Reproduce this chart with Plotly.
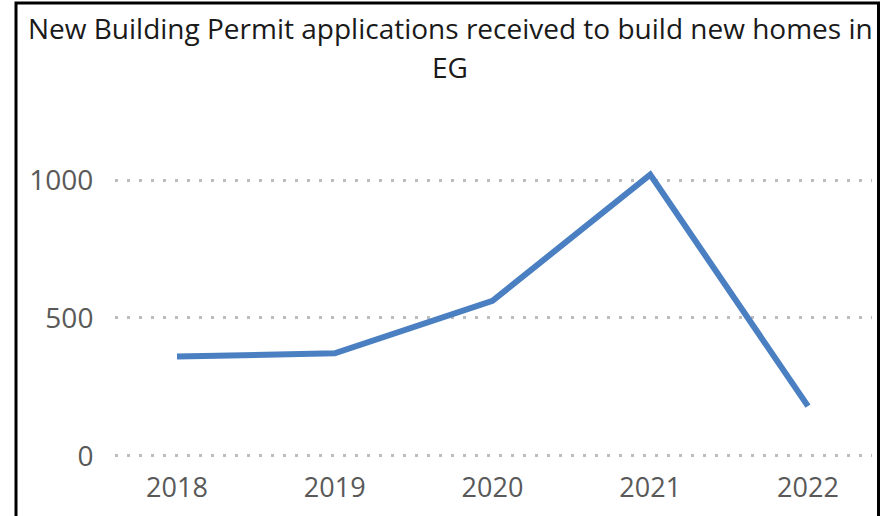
import plotly.graph_objects as go

# Data
years = ["2018", "2019", "2020", "2021", "2022"]
applications = [360, 372, 562, 1020, 180]
y_ticks = [0, 500, 1000]
title_lines = ["New Building Permit applications received to build new homes in", "EG"]

W, H = 891, 516
Y_MIN, Y_MAX = -8, 1200
ZERO_PX, TOP_PX = 456, 125          # pixel rows for value 0 and for Y_MAX
px_per_unit = (ZERO_PX - TOP_PX) / Y_MAX
M_L, M_R = 115, 19
M_T = TOP_PX
M_B = H - (ZERO_PX - Y_MIN * px_per_unit)
plot_w = W - M_L - M_R
plot_h = H - M_T - M_B

def px_to_paper_x(px):
    return (px - M_L) / plot_w

def px_to_paper_y(py):
    return (H - M_B - py) / plot_h

fig = go.Figure()
fig.add_trace(go.Scatter(
    x=years, y=applications, mode="lines",
    line=dict(color="#4a7fc2", width=6),
    hoverinfo="x+y", showlegend=False,
))

# Two-line title placed as annotations for exact line spacing
title_centers_px = [28, 67]
annotations = [
    dict(
        text=line, xref="paper", yref="paper",
        x=px_to_paper_x(450), y=px_to_paper_y(cy),
        xanchor="center", yanchor="middle", showarrow=False,
        font=dict(family="Open Sans, sans-serif", size=28, color="#1a1a1a"),
    )
    for line, cy in zip(title_lines, title_centers_px)
]

fig.update_layout(
    width=W, height=H,
    margin=dict(l=M_L, r=M_R, t=M_T, b=M_B, pad=0, autoexpand=False),
    paper_bgcolor="white", plot_bgcolor="white",
    font=dict(family="Open Sans, sans-serif", color="#595959"),
    annotations=annotations,
    xaxis=dict(
        type="category", range=[-0.393, 4.406], automargin=False,
        showgrid=False, zeroline=False, showline=False,
        ticks="outside", ticklen=6, tickcolor="rgba(0,0,0,0)",
        tickfont=dict(size=27, color="#595959"),
    ),
    yaxis=dict(
        range=[Y_MIN, Y_MAX], tickvals=y_ticks, automargin=False,
        showgrid=True, gridcolor="#bdbdbd", gridwidth=2.5, griddash="2.5px,9.5px",
        zeroline=False, showline=False,
        ticks="outside", ticklen=15, tickcolor="rgba(0,0,0,0)",
        tickfont=dict(size=28, color="#595959"),
    ),
    shapes=[dict(
        type="rect", xref="paper", yref="paper",
        x0=px_to_paper_x(16), x1=px_to_paper_x(878.5),
        y0=px_to_paper_y(530), y1=px_to_paper_y(3),
        line=dict(color="black", width=3), fillcolor="rgba(0,0,0,0)",
        layer="above",
    )],
)

fig.write_html("out.html")
